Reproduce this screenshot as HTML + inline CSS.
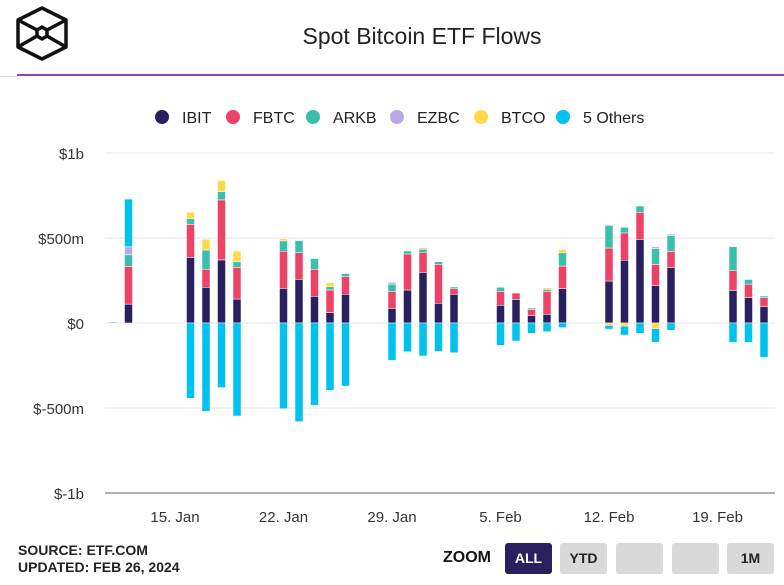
<!DOCTYPE html>
<html><head><meta charset="utf-8"><style>
body{margin:0;width:784px;height:585px;background:#fff;font-family:"Liberation Sans",sans-serif;overflow:hidden;position:relative}
.btn{position:absolute;top:543px;width:47px;height:31px;background:#d9d9d9;border-radius:3px;font-weight:bold;font-size:14px;line-height:31px;text-align:center;color:#222}
</style></head><body>
<svg width="90" height="70" style="position:absolute;left:0;top:0">
<g fill="none" stroke="#111" stroke-width="3.5" stroke-linejoin="round">
<polygon points="42,8 66,20 66,47 42,59 18,47 18,20"/>
<polygon points="42,27 47,30 47,36 42,39 37,36 37,30"/>
<line x1="18" y1="20" x2="37" y2="30"/><line x1="66" y1="20" x2="47" y2="30"/>
<line x1="18" y1="47" x2="37" y2="36"/><line x1="66" y1="47" x2="47" y2="36"/>
</g></svg>
<div style="position:absolute;left:30px;width:784px;top:23px;text-align:center;font-size:23px;color:#222">Spot Bitcoin ETF Flows</div>
<div style="position:absolute;left:17px;top:74px;width:767px;height:2px;background:#9040c0"></div>
<div style="position:absolute;left:0;top:76px;width:17px;height:1px;background:#e0c8f0"></div>
<svg id="chart" width="784" height="585" style="position:absolute;left:0;top:0"></svg>
<div style="position:absolute;left:18px;top:542px;font-size:14px;font-weight:bold;color:#222;line-height:17px">SOURCE: ETF.COM<br>UPDATED: FEB 26, 2024</div>
<div style="position:absolute;left:443px;top:549px;font-size:16px;font-weight:bold;color:#111">ZOOM</div>
<div class="btn" style="left:505px;background:#2a2060;color:#fff">ALL</div>
<div class="btn" style="left:560px">YTD</div>
<div class="btn" style="left:616px"></div>
<div class="btn" style="left:672px"></div>
<div class="btn" style="left:727px">1M</div>
<script>
const series=["IBIT","FBTC","ARKB","EZBC","BTCO","5 Others"];
const colors=["#2a2060","#ee4266","#3bbfad","#b8a9e6","#ffd94a","#00c2ee"];
const dayOffsets=[-4,-3,1,2,3,4,7,8,9,10,11,14,15,16,17,18,21,22,23,24,25,28,29,30,31,32,36,37,38];
const ibit=[0,111,386,210,371,141,204,257,157,61,169,86,194,298,116,169,104,139,43,51,202,247,369,492,219,325,192,149,96];
const fbtc=[0,222,194,106,353,186,218,157,159,133,104,98,212,118,229,33,82,37,37,135,133,194,161,159,125,96,116,80,53];
const arkb=[5,68,35,113,49,33,61,71,63,20,18,45,18,18,16,10,24,0,8,12,78,133,33,37,94,94,141,27,10];
const ezbc=[0,47,0,0,0,0,0,0,0,0,0,10,0,0,0,0,0,0,0,0,0,0,0,0,10,8,0,0,0];
const btco=[0,0,37,63,65,63,12,0,0,24,0,0,0,8,0,0,0,0,0,10,18,-14,-18,0,-33,0,0,0,0];
const others=[0,281,-443,-519,-380,-547,-504,-580,-484,-396,-371,-220,-169,-194,-167,-175,-131,-106,-61,-51,-27,-22,-53,-61,-80,-43,-114,-114,-202];
const yTicks=[1000,500,0,-500,-1000];
const yTickLabels=["$1b","$500m","$0","$-500m","$-1b"];
const xTickOffsets=[0,7,14,21,28,35];
const xTickLabels=["15. Jan","22. Jan","29. Jan","5. Feb","12. Feb","19. Feb"];
const svg=document.getElementById('chart');const NS="http://www.w3.org/2000/svg";
const y=v=>323-v*0.17;const x=d=>175+d*15.5;
function mk(t,a){const e=document.createElementNS(NS,t);for(const k in a)e.setAttribute(k,a[k]);svg.appendChild(e);return e;}
yTicks.forEach((v,i)=>{
 const l=mk('line',{x1:105,x2:775,y1:y(v),y2:y(v),stroke:v===-1000?'#666':'#e6e6e6','stroke-width':1});
 
 
 const t=mk('text',{x:84,y:y(v)+6,'text-anchor':'end','font-size':15,fill:'#333','font-family':'Liberation Sans, sans-serif'});t.textContent=yTickLabels[i];
 
 
});
xTickOffsets.forEach((d,i)=>{
 const t=mk('text',{x:x(d),y:522,'text-anchor':'middle','font-size':15,fill:'#333','font-family':'Liberation Sans, sans-serif'});t.textContent=xTickLabels[i];
 
 
});
const data=[ibit,fbtc,arkb,ezbc,btco,others];
dayOffsets.forEach((d,i)=>{
 let pos=0,neg=0;
 data.forEach((s,k)=>{
  const v=s[i];if(!v)return;
  let top,bot;
  if(v>0){bot=pos;pos+=v;top=pos;}else{top=neg;neg+=v;bot=neg;}
  const r=mk('rect',{x:x(d)-4,y:y(top),width:8,height:Math.max(1,y(bot)-y(top)),fill:colors[k],stroke:'#fff','stroke-width':0.5});
  
  
 });
});
const lx=[162,233,313,397,481,563];
series.forEach((s,k)=>{
 const c=mk('circle',{cx:lx[k],cy:117,r:7,fill:colors[k]});
 
 
 const t=mk('text',{x:lx[k]+20,y:123,'font-size':16,fill:'#222','font-family':'Liberation Sans, sans-serif'});t.textContent=s;
 
 
});
</script>
</body></html>
